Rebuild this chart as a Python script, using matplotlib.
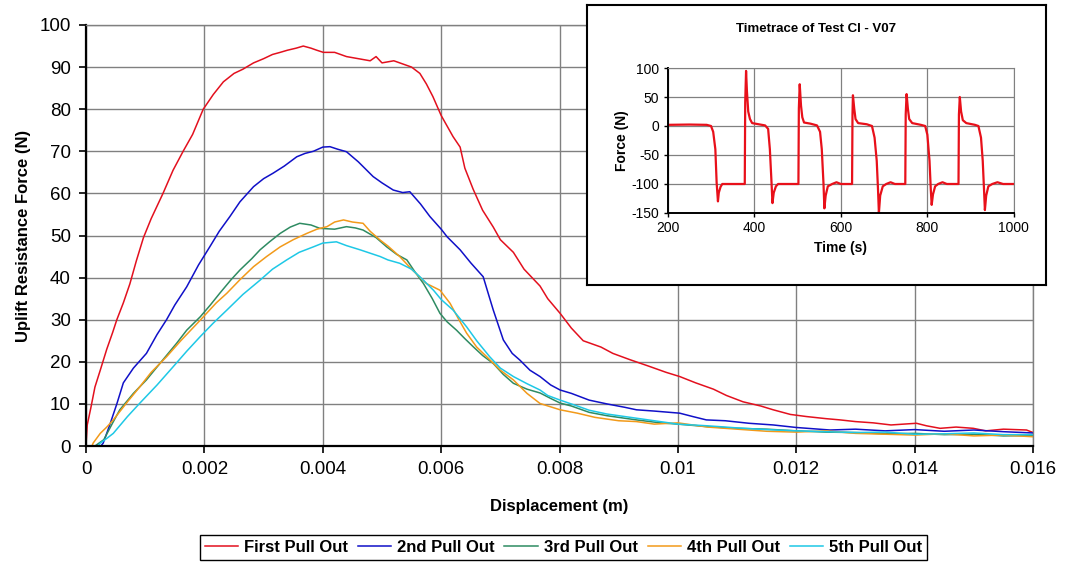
import numpy as np
import matplotlib.pyplot as plt

plt.rcParams['font.family'] = ['Liberation Sans', 'DejaVu Sans']
plt.rcParams['axes.unicode_minus'] = False

# pull-out curves: (displacement in m, uplift force in N)
first_pull = [(0, 0.5), (0.00002, 5), (0.00008, 9), (0.00015, 14), (0.00024, 18), (0.00035, 23),
              (0.00045, 27), (0.00052, 30), (0.00063, 34), (0.00074, 38.5), (0.00085, 44),
              (0.00097, 49.5), (0.0011, 54), (0.0012, 57), (0.0013, 60), (0.00147, 65.5),
              (0.00164, 70), (0.0018, 74), (0.00198, 80), (0.00215, 83.5), (0.00232, 86.5),
              (0.0025, 88.5), (0.00265, 89.5), (0.00283, 91), (0.003, 92), (0.00315, 93),
              (0.00328, 93.5), (0.0034, 94), (0.00355, 94.5), (0.00367, 95), (0.0038, 94.5),
              (0.0039, 94), (0.00401, 93.5), (0.0042, 93.5), (0.0044, 92.5), (0.0046, 92),
              (0.0048, 91.5), (0.0049, 92.5), (0.005, 91), (0.0052, 91.5), (0.0053, 91),
              (0.0055, 90), (0.00564, 88.5), (0.00575, 86), (0.00586, 83), (0.006, 78.5),
              (0.0061, 76), (0.0062, 73.5), (0.00632, 71), (0.0064, 66), (0.00654, 61),
              (0.0067, 56), (0.00688, 52), (0.007, 49), (0.00722, 46), (0.0074, 42),
              (0.00767, 38), (0.0078, 35), (0.00801, 31.5), (0.0082, 28), (0.0084, 25),
              (0.0087, 23.5), (0.0089, 22), (0.00919, 20.5), (0.0095, 19), (0.0098, 17.5),
              (0.01003, 16.5), (0.0103, 15), (0.0106, 13.5), (0.01082, 12), (0.0111, 10.5),
              (0.0114, 9.5), (0.01161, 8.6), (0.0119, 7.5), (0.01217, 7), (0.0125, 6.5),
              (0.01274, 6.2), (0.013, 5.8), (0.0133, 5.5), (0.0136, 5), (0.01403, 5.4),
              (0.0142, 4.8), (0.01443, 4.2), (0.0147, 4.5), (0.01499, 4.2), (0.0152, 3.6),
              (0.0155, 4), (0.01589, 3.8), (0.016, 3.2)]

second_pull = [(0.00025, 0), (0.00029, 0.7), (0.0004, 5), (0.00052, 10), (0.00063, 15), (0.0008, 18.5),
               (0.00102, 22), (0.0012, 26.5), (0.00136, 30), (0.0015, 33.5), (0.0017, 37.8),
               (0.0019, 43), (0.00209, 47.3), (0.00225, 51), (0.00243, 54.5), (0.0026, 58),
               (0.00283, 61.6), (0.003, 63.5), (0.00316, 64.8), (0.00335, 66.5), (0.00356, 68.7),
               (0.0037, 69.5), (0.00384, 70), (0.004, 71), (0.00412, 71.1), (0.00425, 70.5),
               (0.0044, 69.9), (0.0046, 67.5), (0.00485, 64), (0.005, 62.5), (0.00519, 60.8),
               (0.00535, 60.2), (0.00547, 60.4), (0.00565, 57.5), (0.00581, 54.5), (0.006, 51.5),
               (0.0061, 49.7), (0.00632, 46.6), (0.0065, 43.5), (0.00671, 40.2), (0.0068, 36),
               (0.00688, 32.3), (0.00705, 25.2), (0.0072, 22), (0.00733, 20.4), (0.0075, 18),
               (0.00767, 16.5), (0.00785, 14.5), (0.00801, 13.3), (0.0082, 12.5), (0.0085, 10.9),
               (0.0088, 10), (0.0091, 9.2), (0.0093, 8.6), (0.0096, 8.3), (0.01003, 7.8),
               (0.01025, 7), (0.01048, 6.2), (0.0108, 6), (0.0112, 5.4), (0.01161, 5),
               (0.012, 4.4), (0.01257, 3.8), (0.013, 4), (0.0135, 3.6), (0.014, 3.9),
               (0.0145, 3.5), (0.015, 3.8), (0.0155, 3.4), (0.016, 3.1)]

third_pull = [(0.00015, 0), (0.0003, 1.5), (0.00045, 5.5), (0.00057, 8.6), (0.0008, 12.5), (0.00102, 15.7),
              (0.0013, 20.5), (0.00153, 24.4), (0.0017, 27.5), (0.00193, 30.7), (0.0021, 33.5),
              (0.00226, 36.3), (0.00245, 39.5), (0.0026, 41.8), (0.0028, 44.5), (0.00294, 46.6),
              (0.0031, 48.5), (0.00328, 50.5), (0.00345, 52), (0.00361, 52.9), (0.0038, 52.5),
              (0.00395, 51.7), (0.0042, 51.5), (0.0044, 52.1), (0.00455, 51.8), (0.00468, 51.3),
              (0.0049, 49.5), (0.00508, 47.3), (0.00525, 45.5), (0.00542, 44.2), (0.00555, 41.5),
              (0.0057, 38.6), (0.00585, 35), (0.00598, 31.5), (0.0061, 29.5), (0.00626, 27.5),
              (0.0064, 25.5), (0.00654, 23.6), (0.0067, 21.5), (0.00688, 19.6), (0.00705, 17),
              (0.00722, 14.9), (0.00745, 13.5), (0.00767, 12.6), (0.00785, 11.3), (0.00801, 10.2),
              (0.0082, 9.5), (0.0085, 8), (0.0088, 7.2), (0.0093, 6.2), (0.0097, 5.5), (0.01, 5.2),
              (0.0105, 4.6), (0.011, 4.2), (0.0115, 4), (0.012, 3.6), (0.0125, 3.3), (0.013, 3.2),
              (0.0135, 2.9), (0.014, 3), (0.0145, 2.7), (0.015, 2.8), (0.0155, 2.4), (0.016, 2.5)]

fourth_pull = [(0.0001, 0), (0.00012, 0.7), (0.00024, 3), (0.00035, 4.5), (0.00046, 6.2), (0.0007, 10.5),
               (0.00091, 14.1), (0.0011, 17.5), (0.00136, 21.2), (0.0016, 25), (0.00193, 29.9),
               (0.0022, 34), (0.00238, 36.3), (0.0026, 39.5), (0.00283, 42.6), (0.00305, 45),
               (0.00328, 47.3), (0.0035, 49), (0.00373, 50.5), (0.0039, 51.5), (0.00407, 52.1),
               (0.0042, 53.2), (0.00435, 53.7), (0.0045, 53.2), (0.00468, 52.9), (0.0048, 51),
               (0.00497, 48.9), (0.0051, 47.5), (0.0053, 45), (0.0055, 42), (0.00575, 38.6),
               (0.00598, 37), (0.00615, 33.9), (0.0063, 30), (0.00643, 26.8), (0.0066, 23.5),
               (0.00677, 21.2), (0.007, 18), (0.00722, 15.7), (0.00745, 12.5), (0.00767, 10.1),
               (0.00801, 8.6), (0.0083, 7.8), (0.0086, 6.8), (0.009, 6), (0.0093, 5.8),
               (0.0096, 5.2), (0.01, 5.5), (0.0105, 4.5), (0.011, 4), (0.0115, 3.5), (0.012, 3.3),
               (0.0125, 3.6), (0.013, 3), (0.0135, 2.8), (0.014, 2.6), (0.0145, 2.9), (0.015, 2.4),
               (0.0155, 2.6), (0.016, 2.2)]

fifth_pull = [(0.0002, 0), (0.00024, 0.7), (0.00035, 1.8), (0.00046, 3), (0.0007, 7), (0.00091, 10.2),
              (0.0012, 14.5), (0.00147, 18.8), (0.0017, 22.5), (0.00193, 26), (0.00215, 29.2),
              (0.00238, 32.3), (0.00265, 36), (0.00294, 39.4), (0.00315, 42), (0.00339, 44.2),
              (0.0036, 46), (0.00384, 47.3), (0.004, 48.2), (0.00423, 48.5), (0.0044, 47.6),
              (0.00463, 46.6), (0.0048, 45.8), (0.00497, 45), (0.0051, 44.2), (0.0053, 43.4),
              (0.0055, 42), (0.00564, 40.2), (0.00587, 37), (0.006, 34.8), (0.0062, 32.3),
              (0.00643, 28.3), (0.0066, 25), (0.00682, 21.2), (0.007, 18.5), (0.00722, 16.5),
              (0.00745, 14.8), (0.00767, 13.3), (0.0078, 12), (0.00801, 10.9), (0.0083, 9.5),
              (0.0085, 8.5), (0.0088, 7.6), (0.0093, 6.6), (0.0097, 5.8), (0.01, 5.2),
              (0.0105, 4.8), (0.011, 4.3), (0.0115, 3.9), (0.012, 3.6), (0.0125, 3.4),
              (0.013, 3.2), (0.0135, 3.3), (0.014, 2.8), (0.0145, 2.9), (0.015, 3.1),
              (0.0155, 2.7), (0.016, 2.7)]

series_names = ['First Pull Out', '2nd Pull Out', '3rd Pull Out', '4th Pull Out', '5th Pull Out']
series_colors = ['#e3101e', '#1010c8', '#2e8b62', '#f29a1a', '#1ec8e6']

# time trace of the whole test: (time in s, force in N)
timetrace = [(200, 2), (250, 2.5), (290, 2), (300, 0), (305, -10), (310, -40), (313, -98), (316, -130),
             (318, -115), (322, -105), (326, -100), (378, -100), (379, 40), (381, 95), (383, 60),
             (386, 25), (390, 12), (395, 5), (410, 3), (425, 1), (432, -5), (436, -40), (440, -100),
             (442, -133), (445, -115), (450, -104), (455, -100), (502, -100), (503, 30), (505, 72),
             (508, 35), (511, 15), (515, 6), (530, 4), (545, 1), (552, -10), (556, -40), (560, -100),
             (562, -142), (565, -120), (570, -104), (580, -100), (590, -97), (600, -100), (626, -100),
             (627, 20), (628, 53), (631, 30), (634, 12), (640, 5), (660, 3), (672, 0), (678, -20),
             (683, -60), (686, -110), (688, -150), (691, -120), (697, -104), (705, -100), (715, -97),
             (725, -100), (749, -100), (750, 20), (752, 55), (755, 30), (758, 12), (765, 5), (785, 2),
             (795, 0), (800, -15), (805, -60), (808, -110), (810, -136), (813, -118), (818, -104),
             (825, -100), (835, -97), (845, -100), (872, -100), (873, 20), (875, 50), (878, 25),
             (882, 10), (890, 5), (910, 2), (918, 0), (924, -20), (928, -60), (931, -110), (933, -145),
             (936, -120), (941, -104), (950, -100), (962, -97), (975, -100), (1000, -100)]

fig = plt.figure(figsize=(10.65, 5.63), dpi=100)
ax = fig.add_axes([0.0808, 0.2078, 0.8892, 0.7478])

for pts, name, c in zip([first_pull, second_pull, third_pull, fourth_pull, fifth_pull],
                        series_names, series_colors):
    d, f = np.array(pts).T
    ax.plot(d, f, color=c, lw=1.1, label=name)

ax.set_xlim(0, 0.016)
ax.set_ylim(0, 100)
ax.set_xticks(np.arange(0, 0.0161, 0.002))
ax.set_xticklabels(['0', '0.002', '0.004', '0.006', '0.008', '0.01', '0.012', '0.014', '0.016'])
ax.set_yticks(range(0, 101, 10))
ax.grid(True, color='#808080', lw=1.0)
ax.tick_params(direction='out', length=5, width=1.2, labelsize=13.5, pad=6)
for s in ['top', 'right']:
    ax.spines[s].set_color('#808080')
    ax.spines[s].set_linewidth(1.0)
for s in ['left', 'bottom']:
    ax.spines[s].set_linewidth(1.6)
ax.set_xlabel('Displacement (m)', fontsize=12, fontweight='bold')
ax.set_ylabel('Uplift Resistance Force (N)', fontsize=12, fontweight='bold')
ax.xaxis.set_label_coords(0.5, -0.127)
ax.yaxis.set_label_coords(-0.058, 0.5)

leg = fig.legend(loc='center', bbox_to_anchor=(0.529, 0.028), ncol=5, fancybox=False,
                 edgecolor='black', framealpha=1, handlelength=2.0, handletextpad=0.35,
                 columnspacing=0.6, borderpad=0.3, prop={'size': 12, 'weight': 'bold'})
leg.get_frame().set_linewidth(1.0)

# inset box with the time trace
box = fig.add_axes([0.551, 0.494, 0.431, 0.497])
box.set_xticks([])
box.set_yticks([])
for s in box.spines.values():
    s.set_linewidth(1.5)
box.text(0.5, 0.915, 'Timetrace of Test CI - V07', transform=box.transAxes,
         ha='center', va='center', fontsize=9.5, fontweight='bold')

ins = fig.add_axes([0.627, 0.6217, 0.325, 0.2575])
t, f = np.array(timetrace).T
ins.plot(t, f, color='#e8101a', lw=1.6)
ins.set_xlim(200, 1000)
ins.set_ylim(-150, 100)
ins.set_xticks(range(200, 1001, 200))
ins.set_yticks(range(-150, 101, 50))
ins.grid(True, color='#808080', lw=0.9)
ins.tick_params(direction='out', length=3, width=1.0, labelsize=10, pad=3)
for s in ['top', 'right']:
    ins.spines[s].set_color('#808080')
for s in ['left', 'bottom']:
    ins.spines[s].set_linewidth(1.4)
ins.set_xlabel('Time (s)', fontsize=10, fontweight='bold', labelpad=4)
ins.set_ylabel('Force (N)', fontsize=10, fontweight='bold', labelpad=2)

fig.savefig('out.png', dpi=100)
